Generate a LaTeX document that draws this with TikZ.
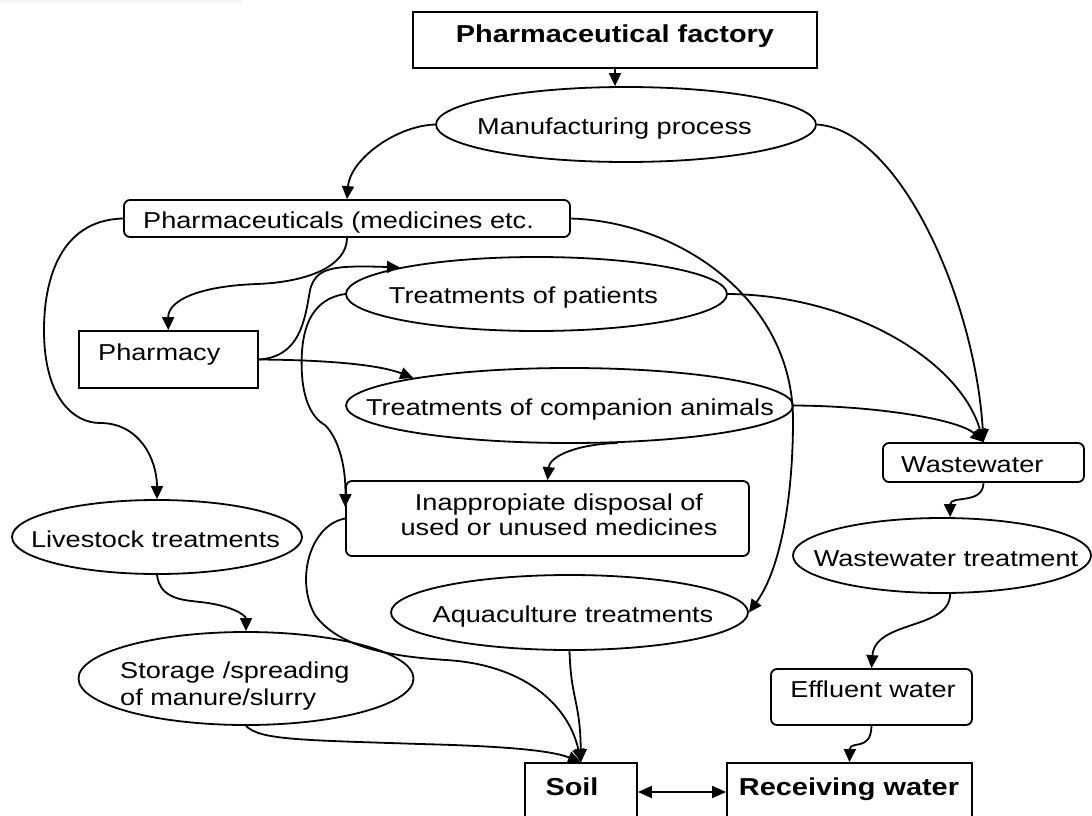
\documentclass[tikz,border=0pt]{standalone}
\usepackage{fontspec}
\setmainfont{Liberation Sans}
\usepackage{graphicx}
\usetikzlibrary{shapes.geometric,arrows.meta,calc}
\newcommand\sx[1]{\scalebox{1.18}[1]{#1}}
\tikzset{
  ln/.style={line width=1.8pt},
  arr/.style={ln,-{Triangle[length=13pt,width=12pt]}},
  arrtwo/.style={ln,{Triangle[length=14pt,width=12pt]}-{Triangle[length=14pt,width=12pt]}},
  box/.style={draw,ln,rectangle,inner sep=0pt},
  rbox/.style={draw,ln,rectangle,rounded corners=6pt,inner sep=0pt},
  ell/.style={draw,ln,ellipse,inner sep=0pt},
  txt/.style={inner sep=0pt,anchor=base,font=\fontsize{23}{25}\selectfont},
  txtl/.style={inner sep=0pt,anchor=base west,font=\fontsize{23}{27}\selectfont},
  btxt/.style={inner sep=0pt,anchor=base,font=\fontsize{24.5}{27}\selectfont\bfseries}
}
\begin{document}
\begin{tikzpicture}[x=1pt,y=-1pt]
\useasboundingbox (0,0) rectangle (1092,816);
\clip (0,0) rectangle (1092,816);
\fill[gray!6] (0,0) rectangle (242,3);
% boxes and ellipses
\node[box, minimum width=404pt, minimum height=56pt] (factory) at (615,40) {};
\node[btxt] (factoryT) at (615,43) {\sx{Pharmaceutical factory}};
\node[ell, minimum width=380pt, minimum height=75pt] (manuf) at (626,124.5) {};
\node[txt] (manufT) at (614.5,134) {\sx{Manufacturing process}};
\node[rbox, minimum width=446pt, minimum height=37pt] (pharm) at (347,218.5) {};
\node[txtl] (pharmT) at (143,228) {\sx{Pharmaceuticals (medicines etc.}};
\node[box, minimum width=179pt, minimum height=57pt] (pharmacy) at (168.3,359.5) {};
\node[txtl] (pharmacyT) at (98,360) {\sx{Pharmacy}};
\node[ell, minimum width=381pt, minimum height=74pt] (patients) at (536.5,294) {};
\node[txt] (patientsT) at (523.5,303) {\sx{Treatments of patients}};
\node[ell, minimum width=447pt, minimum height=75pt] (companion) at (569.5,405.5) {};
\node[txt] (companionT) at (570,415) {\sx{Treatments of companion animals}};
\node[rbox, minimum width=201pt, minimum height=39pt] (ww) at (983.5,462.5) {};
\node[txtl] (wwT) at (901,472) {\sx{Wastewater}};
\node[rbox, minimum width=403pt, minimum height=75pt] (inapp) at (547.5,518.5) {};
\node[txt, align=center] (inappT) at (559,535) {\sx{Inappropiate disposal of}\\\sx{used or unused medicines}};
\node[ell, minimum width=290pt, minimum height=74pt] (livestock) at (157,537) {};
\node[txt] (livestockT) at (155.5,547) {\sx{Livestock treatments}};
\node[ell, minimum width=298pt, minimum height=75pt] (wwt) at (942,555.5) {};
\node[txt] (wwtT) at (946,566) {\sx{Wastewater treatment}};
\node[ell, minimum width=357pt, minimum height=75pt] (aqua) at (569.5,612.5) {};
\node[txt] (aquaT) at (573,622) {\sx{Aquaculture treatments}};
\node[ell, minimum width=335pt, minimum height=93pt] (storage) at (246,678.5) {};
\node[txtl, align=left] (storageT) at (120,705) {\sx{Storage /spreading}\\\sx{of manure/slurry}};
\node[rbox, minimum width=201pt, minimum height=56pt] (effluent) at (871.5,697) {};
\node[txt] (effluentT) at (873,697) {\sx{Effluent water}};
\node[box, minimum width=112pt, minimum height=58pt] (soil) at (581,792) {};
\node[btxt] (soilT) at (572,795) {\sx{Soil}};
\node[box, minimum width=245pt, minimum height=58pt] (recv) at (849.5,792) {};
\node[btxt] (recvT) at (849,795) {\sx{Receiving water}};
% connectors
\draw[arr] (factory.south) -- (factory.south |- manuf.north);
\draw[arr] (manuf.west) .. controls (395,126) and (350,160) .. (pharm.north);
\draw[arr] (manuf.east) .. controls (900,130) and (975,300) .. (ww.north);
\draw[arr] (pharm.south) .. controls (347,265) and (310,282) .. (257,284) .. controls (200,286) and (168,300) .. (pharmacy.north);
\draw[arr] (pharm.west) .. controls (60,220) and (44,280) .. (44,330) .. controls (44,400) and (75,423) .. (100,423) .. controls (140,423) and (157,460) .. (livestock.north);
\draw[arr] (pharm.east) .. controls (680,222) and (793,300) .. (793,420) .. controls (793,500) and (780,570) .. (aqua.east);
\draw[arr] (pharmacy.east) .. controls (300,357) and (305,320) .. (310,290) .. controls (316,268) and (330,265) .. (patients.169);
\draw[arr] (pharmacy.east) .. controls (330,360) and (380,365) .. (companion.170);
\draw[arr] (patients.west) .. controls (305,300) and (300,340) .. (302,375) .. controls (304,405) and (315,420) .. (325,425) .. controls (340,440) and (346,470) .. ($(inapp.north west)+(0,27)$);
\draw[arr] (companion.-38) .. controls (580,444) and (550,455) .. (inapp.north);
\draw[arr] (patients.east) .. controls (850,295) and (960,360) .. (ww.north);
\draw[arr] (companion.east) .. controls (880,406) and (960,420) .. (ww.north);
\draw[arr] (ww.south) .. controls (983,505) and (950,495) .. (wwt.78);
\draw[arr] (wwt.-78) .. controls (950,630) and (875,620) .. (effluent.north);
\draw[arr] (effluent.south) .. controls (871,752) and (850,740) .. (recv.north);
\draw[arr] (livestock.south) .. controls (160,600) and (185,600) .. (200,602) .. controls (230,605) and (246,615) .. (storage.north);
\draw[arr] (storage.south) .. controls (260,740) and (300,740) .. (420,744) .. controls (500,746) and (550,750) .. (soil.north);
\draw[arr] (inapp.west) .. controls (310,525) and (295,580) .. (315,615) .. controls (340,650) and (400,657) .. (446,660) .. controls (530,665) and (570,710) .. (soil.north);
\draw[arr] (aqua.south) .. controls (571,700) and (580,700) .. (soil.north);
\draw[arrtwo] (soil.east) -- (recv.west);
\end{tikzpicture}
\end{document}
